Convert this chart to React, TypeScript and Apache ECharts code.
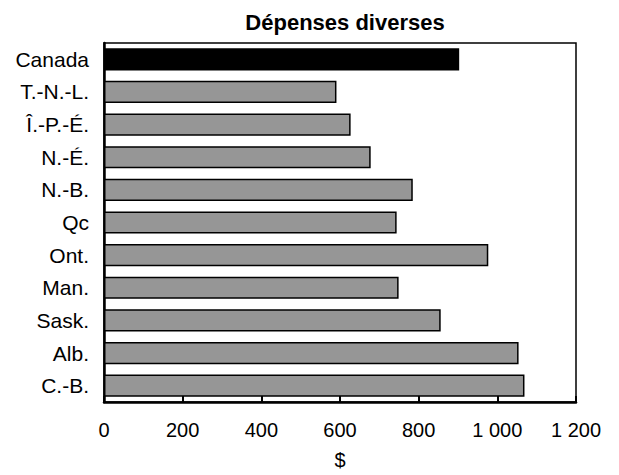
import React, { useEffect, useRef } from "react";
import * as echarts from "echarts";

const titleText = "Dépenses diverses";
const categories = ["Canada", "T.-N.-L.", "Î.-P.-É.", "N.-É.", "N.-B.", "Qc", "Ont.", "Man.", "Sask.", "Alb.", "C.-B."];
const values = [903, 591, 627, 678, 785, 744, 977, 749, 856, 1054, 1069];
const highlight = "Canada";
const axisName = "$";

const FONT = "Liberation Sans, Arial, sans-serif";

export default function App() {
  const ref = useRef<HTMLDivElement>(null);
  useEffect(() => {
    if (!ref.current) return;
    const chart = echarts.init(ref.current, null, { renderer: "svg" });
    chart.setOption({
      animation: false,
      backgroundColor: "#ffffff",
      title: {
        text: titleText,
        left: 340,
        textAlign: "center",
        top: 6,
        textStyle: { fontFamily: FONT, fontSize: 22, fontWeight: "bold", color: "#000" },
      },
      grid: {
        left: 104,
        right: 43,
        top: 43,
        bottom: 73,
        show: true,
        borderColor: "#000",
        borderWidth: 1.5,
        backgroundColor: "#fff",
      },
      xAxis: {
        type: "value",
        min: 0,
        max: 1200,
        interval: 200,
        name: axisName,
        nameLocation: "middle",
        nameGap: 48,
        nameTextStyle: { fontFamily: FONT, fontSize: 20, color: "#000" },
        axisLine: { show: true, lineStyle: { color: "#000", width: 2.5 } },
        axisTick: { show: true, inside: true, length: 6, lineStyle: { color: "#000", width: 2 } },
        splitLine: { show: false },
        axisLabel: {
          margin: 18,
          fontFamily: FONT,
          fontSize: 20,
          color: "#000",
          formatter: (v: number) => String(v).replace(/\B(?=(\d{3})+(?!\d))/g, " "),
        },
      },
      yAxis: {
        type: "category",
        data: categories,
        inverse: true,
        axisLine: { show: true, lineStyle: { color: "#000", width: 2.5 } },
        axisTick: { show: false },
        axisLabel: { margin: 15, fontFamily: FONT, fontSize: 21, color: "#000" },
      },
      series: [
        {
          type: "bar",
          data: values.map((v, i) => ({
            value: v,
            itemStyle: categories[i] === highlight ? { color: "#000", borderColor: "#000", borderWidth: 1.5 } : undefined,
          })),
          barCategoryGap: "32%",
          itemStyle: { color: "#969696", borderColor: "#000", borderWidth: 1.5 },
        },
      ],
    });
    return () => chart.dispose();
  }, []);
  return <div ref={ref} style={{ width: 619, height: 475, position: "absolute", left: 0, top: 0 }} />;
}
